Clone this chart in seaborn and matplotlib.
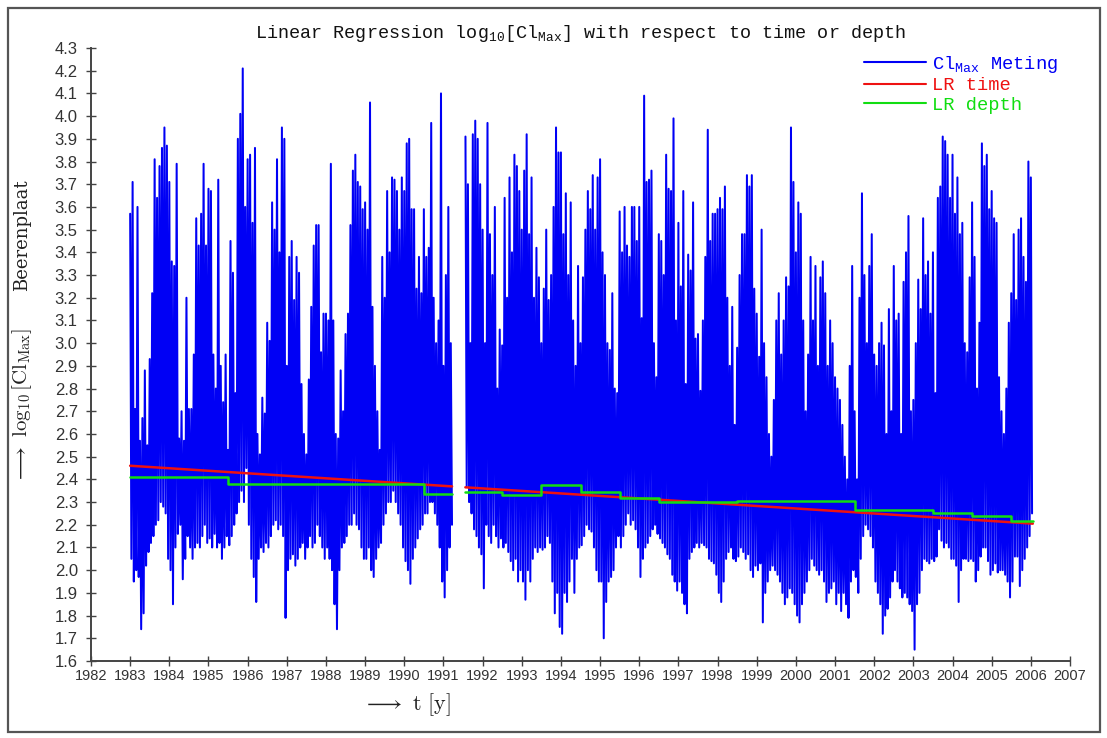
import numpy as np
import pandas as pd
import matplotlib
matplotlib.use("Agg")
import matplotlib.pyplot as plt
import seaborn as sns
from matplotlib.patches import Rectangle
from matplotlib.lines import Line2D
from matplotlib.font_manager import FontProperties

nan = np.nan

# log10[Cl_Max] Beerenplaat: per year 16 spikes (hi) and the dips between them (lo)
hi_1983 = [3.57, 3.71, 2.71, 3.60, 2.57, 2.67, 2.88, 2.55, 2.93, 3.22, 3.81, 3.64, 3.78, 3.86, 3.95, 3.87]
lo_1983 = [2.05, 1.95, 2.00, 1.97, 1.74, 1.81, 2.02, 2.08, 2.12, 2.15, 2.20, 2.22, 2.30, 2.28, 2.25, 2.05]
hi_1984 = [3.71, 3.36, 3.34, 3.79, 2.58, 2.70, 2.57, 3.20, 2.71, 2.71, 2.95, 3.55, 3.43, 3.57, 3.79, 3.43]
lo_1984 = [2.00, 1.85, 2.10, 2.16, 2.20, 1.96, 2.05, 2.15, 2.10, 2.05, 2.10, 2.12, 2.10, 2.15, 2.20, 2.12]
hi_1985 = [3.68, 3.67, 2.95, 2.80, 3.72, 2.90, 2.74, 2.95, 2.53, 3.45, 3.31, 2.78, 3.90, 4.01, 4.21, 3.60]
lo_1985 = [2.14, 2.10, 2.16, 2.10, 2.12, 2.05, 2.10, 2.15, 2.11, 2.15, 2.20, 2.25, 2.30, 2.35, 2.30, 2.45]
hi_1986 = [3.81, 3.83, 3.53, 3.86, 2.60, 2.51, 2.76, 2.69, 3.09, 3.01, 3.62, 3.50, 3.81, 3.40, 3.95, 3.90]
lo_1986 = [2.20, 2.05, 1.97, 1.86, 2.05, 2.10, 2.08, 2.12, 2.10, 2.15, 2.20, 2.22, 2.18, 2.20, 2.15, 1.79]
hi_1987 = [2.90, 3.38, 3.45, 3.19, 3.38, 3.31, 2.82, 2.60, 2.51, 2.84, 3.16, 3.43, 3.52, 3.52, 2.96, 3.13]
lo_1987 = [2.00, 2.05, 2.07, 2.02, 2.05, 2.10, 2.12, 2.05, 2.10, 2.15, 2.10, 2.12, 2.20, 2.15, 2.10, 2.05]
hi_1988 = [3.13, 3.10, 3.79, 3.10, 2.60, 2.58, 2.88, 2.70, 3.04, 3.13, 3.52, 3.76, 3.83, 3.71, 3.69, 3.59]
lo_1988 = [2.10, 2.05, 2.00, 1.85, 1.74, 2.00, 2.10, 2.12, 2.15, 2.20, 2.20, 2.25, 2.20, 2.18, 2.10, 2.05]
hi_1989 = [3.62, 3.50, 4.06, 3.16, 2.90, 2.70, 2.53, 3.38, 3.20, 3.67, 3.40, 3.73, 3.72, 3.67, 3.50, 3.73]
lo_1989 = [2.05, 2.10, 2.00, 1.97, 2.05, 2.10, 2.12, 2.20, 2.25, 2.30, 2.30, 2.35, 2.30, 2.25, 2.20, 2.10]
hi_1990 = [3.67, 3.88, 3.90, 3.59, 3.59, 3.24, 3.38, 3.22, 3.59, 3.38, 3.42, 3.97, 3.20, 3.00, 3.10, 4.10]
lo_1990 = [2.04, 2.00, 1.94, 2.05, 2.10, 2.14, 2.18, 2.20, 2.25, 2.25, 2.30, 2.30, 2.25, 2.20, 2.10, 1.95]
hi_1991 = [2.90, 3.30, 3.60, 3.00, nan, nan, nan, nan, nan, 3.91, 3.70, 3.00, 3.92, 3.98, 3.90, 3.70]
lo_1991 = [1.88, 2.00, 2.10, 2.20, nan, nan, nan, nan, nan, 2.37, 2.30, 2.25, 2.18, 2.15, 2.10, 2.07]
hi_1992 = [3.50, 3.00, 3.97, 3.48, 3.30, 3.60, 2.80, 3.06, 2.99, 3.64, 3.20, 3.73, 3.40, 3.83, 3.78, 3.67]
lo_1992 = [1.92, 2.20, 2.15, 2.12, 2.20, 2.15, 2.10, 2.14, 2.10, 2.12, 2.08, 2.04, 2.00, 2.05, 1.95, 2.00]
hi_1993 = [3.50, 3.76, 3.92, 3.48, 3.73, 3.20, 3.42, 3.29, 3.00, 3.24, 3.50, 3.19, 3.30, 3.60, 3.95, 3.84]
lo_1993 = [1.95, 1.87, 2.00, 1.95, 2.05, 2.10, 2.08, 2.10, 2.09, 2.10, 2.15, 2.12, 1.95, 1.81, 1.90, 1.75]
hi_1994 = [3.84, 3.48, 3.66, 3.30, 3.62, 3.10, 2.90, 3.34, 3.00, 3.29, 3.50, 3.67, 3.59, 3.74, 3.50, 3.73]
lo_1994 = [1.72, 1.90, 1.86, 1.95, 2.05, 1.90, 2.05, 2.10, 2.11, 2.15, 2.20, 2.18, 2.17, 2.10, 2.00, 1.95]
hi_1995 = [3.81, 3.40, 3.30, 3.00, 2.97, 3.22, 2.80, 2.78, 3.58, 3.40, 3.60, 3.43, 3.38, 3.60, 3.60, 3.45]
lo_1995 = [1.95, 1.70, 1.86, 1.95, 1.97, 2.00, 2.10, 2.15, 2.10, 2.15, 2.20, 2.25, 2.20, 2.22, 2.18, 2.10]
hi_1996 = [3.60, 3.11, 4.09, 3.71, 3.72, 3.76, 3.00, 2.85, 3.48, 3.45, 3.30, 3.83, 3.68, 3.67, 3.99, 3.10]
lo_1996 = [1.97, 2.05, 2.10, 2.12, 2.15, 2.18, 2.20, 2.16, 2.14, 2.12, 2.10, 2.07, 2.05, 1.98, 1.95, 1.91]
hi_1997 = [3.53, 3.25, 3.67, 2.82, 3.39, 3.32, 3.62, 3.02, 3.04, 2.79, 3.10, 3.38, 3.94, 3.45, 3.57, 3.57]
lo_1997 = [1.95, 1.90, 1.85, 1.81, 2.05, 2.08, 2.10, 2.12, 2.10, 2.12, 2.11, 2.10, 2.05, 2.04, 2.03, 1.98]
hi_1998 = [3.59, 3.64, 3.59, 3.69, 3.20, 2.90, 3.16, 2.64, 2.98, 3.30, 3.48, 3.48, 3.74, 3.69, 3.74, 3.24]
lo_1998 = [1.90, 1.86, 1.95, 2.05, 2.08, 2.10, 2.05, 2.04, 2.06, 2.10, 2.08, 2.05, 2.07, 2.00, 1.97, 2.02]
hi_1999 = [3.13, 2.94, 3.50, 3.00, 2.85, 2.60, 2.50, 2.75, 3.10, 3.22, 2.95, 3.10, 3.29, 3.25, 3.95, 3.71]
lo_1999 = [2.00, 2.03, 1.77, 1.90, 1.95, 2.00, 2.02, 2.00, 1.98, 1.95, 1.90, 1.85, 1.88, 1.92, 1.90, 1.85]
hi_2000 = [3.40, 3.62, 3.57, 3.10, 2.70, 2.95, 3.38, 3.10, 3.34, 2.90, 3.29, 3.36, 3.22, 2.90, 3.10, 3.00]
lo_2000 = [1.80, 1.77, 1.85, 1.90, 1.95, 2.00, 2.05, 2.02, 2.00, 1.98, 2.00, 1.95, 1.86, 1.90, 1.92, 1.95]
hi_2001 = [2.85, 2.80, 2.75, 2.64, 2.50, 2.40, 2.90, 3.34, 2.70, 2.40, 3.20, 3.66, 3.30, 3.00, 3.34, 3.48]
lo_2001 = [1.85, 1.90, 1.82, 1.90, 1.85, 1.79, 1.95, 2.00, 1.97, 1.90, 2.05, 2.15, 2.20, 2.18, 2.15, 2.10]
hi_2002 = [2.95, 2.90, 3.00, 3.09, 2.99, 2.60, 3.15, 2.70, 3.34, 3.10, 3.13, 2.60, 3.27, 3.40, 3.56, 2.70]
lo_2002 = [1.95, 1.90, 1.85, 1.72, 1.80, 1.83, 1.88, 1.95, 2.00, 1.95, 1.92, 1.88, 1.90, 1.88, 1.85, 1.82]
hi_2003 = [2.75, 3.00, 3.28, 3.15, 3.55, 3.30, 3.36, 3.13, 3.40, 2.78, 3.64, 3.69, 3.91, 3.89, 3.83, 3.64]
lo_2003 = [1.65, 1.85, 1.90, 2.00, 2.05, 2.04, 2.03, 2.05, 2.04, 2.06, 2.18, 2.13, 2.10, 2.12, 2.10, 2.05]
hi_2004 = [3.83, 3.57, 3.73, 3.48, 3.53, 3.00, 2.96, 3.29, 3.62, 3.38, 2.80, 3.09, 3.88, 3.78, 3.83, 3.59]
lo_2004 = [2.05, 2.02, 1.86, 2.00, 2.05, 2.05, 2.04, 2.05, 2.04, 1.95, 2.00, 2.06, 2.10, 2.10, 2.04, 1.98]
hi_2005 = [3.67, 3.55, 3.53, 2.85, 2.70, 2.60, 2.80, 3.09, 3.22, 3.48, 3.19, 3.50, 3.55, 3.38, 3.27, 3.80]
lo_2005 = [2.00, 2.03, 1.99, 2.00, 2.00, 1.98, 1.95, 1.88, 1.95, 2.06, 2.06, 1.93, 2.00, 2.05, 2.10, 2.15]
hi_2006 = [3.73]
lo_2006 = [2.25]

years = list(range(1983, 2007))
hi_all = [hi_1983, hi_1984, hi_1985, hi_1986, hi_1987, hi_1988, hi_1989, hi_1990, hi_1991,
          hi_1992, hi_1993, hi_1994, hi_1995, hi_1996, hi_1997, hi_1998, hi_1999, hi_2000,
          hi_2001, hi_2002, hi_2003, hi_2004, hi_2005, hi_2006]
lo_all = [lo_1983, lo_1984, lo_1985, lo_1986, lo_1987, lo_1988, lo_1989, lo_1990, lo_1991,
          lo_1992, lo_1993, lo_1994, lo_1995, lo_1996, lo_1997, lo_1998, lo_1999, lo_2000,
          lo_2001, lo_2002, lo_2003, lo_2004, lo_2005, lo_2006]

# linear regression on time (gap where no data)
lr_time_t = [1983.0, 1991.22, nan, 1991.56, 2006.05]
lr_time_v = [2.46, 2.369, nan, 2.365, 2.205]

# linear regression on depth: step levels per period
depth_start = [1983.0, 1985.5, 1990.5, 1991.56, 1992.5, 1993.5, 1994.5, 1995.5, 1996.5, 1998.5, 2001.5, 2003.5, 2004.5, 2005.5]
depth_end = [1985.5, 1990.5, 1991.22, 1992.5, 1993.5, 1994.5, 1995.5, 1996.5, 1998.5, 2001.5, 2003.5, 2004.5, 2005.5, 2006.05]
depth_level = [2.41, 2.38, 2.335, 2.345, 2.33, 2.375, 2.345, 2.32, 2.30, 2.305, 2.265, 2.25, 2.24, 2.215]

# build tables
t, v = [], []
for yr, h, l in zip(years, hi_all, lo_all):
    for k, (a, b) in enumerate(zip(h, l)):
        t += [yr + k / 16, yr + (k + 0.5) / 16]
        v += [a, b]

dt, dv = [], []
for i, (a, b, lev) in enumerate(zip(depth_start, depth_end, depth_level)):
    if i > 0 and a != depth_end[i - 1]:
        dt.append(nan)
        dv.append(nan)
    dt += [a, b]
    dv += [lev, lev]


def segs(x, y):
    df = pd.DataFrame({"t": x, "v": y})
    df["seg"] = df["v"].isna().cumsum()
    return df.dropna()


blue_df = segs(t, v)
red_df = segs(lr_time_t, lr_time_v)
green_df = segs(dt, dv)

BLUE, RED, GREEN = "#0000f5", "#ee1111", "#11dd11"

sns.set_style("ticks")
plt.rcParams["font.family"] = ["Liberation Sans", "DejaVu Sans"]
plt.rcParams["mathtext.fontset"] = "custom"
plt.rcParams["mathtext.rm"] = "Liberation Mono"
plt.rcParams["mathtext.it"] = "Liberation Mono"
plt.rcParams["mathtext.bf"] = "Liberation Mono"

fig = plt.figure(figsize=(11.07, 7.38), dpi=100)
ax = fig.add_axes([91 / 1107, 77 / 738, (1070 - 91) / 1107, (661 - 48) / 738])

sns.lineplot(data=blue_df, x="t", y="v", units="seg", estimator=None, sort=False,
             color=BLUE, lw=1.45, ax=ax)
sns.lineplot(data=red_df, x="t", y="v", units="seg", estimator=None, sort=False,
             color=RED, lw=1.8, ax=ax)
sns.lineplot(data=green_df, x="t", y="v", units="seg", estimator=None, sort=False,
             color=GREEN, lw=1.8, ax=ax)

ax.set_xlim(1982, 2007)
ax.set_ylim(1.6, 4.3)
ax.set_xticks(range(1982, 2008))
ax.set_xticklabels([str(y) for y in range(1982, 2008)], fontsize=10.5, color="#333333")
yt = np.round(np.arange(1.6, 4.31, 0.1), 1)
ax.set_yticks(yt)
ax.set_yticklabels([f"{y:.1f}" for y in yt], fontsize=12, color="#333333")
ax.tick_params(direction="inout", length=7, width=1.0, color="#444444")
ax.tick_params(axis="y", pad=6)
ax.tick_params(axis="x", pad=2)
ax.set_xlabel("")
ax.set_ylabel("")
sns.despine(ax=ax)
for s in ["left", "bottom"]:
    ax.spines[s].set_color("#444444")
    ax.spines[s].set_linewidth(1.4)

# title
fig.text(581 / 1107, 1 - 33 / 738,
         r"Linear Regression log$_{10}$[Cl$_{\mathrm{Max}}$] with respect to time or depth",
         ha="center", va="center", fontsize=13.3, family="Liberation Mono",
         math_fontfamily="custom", color="#111111")

# axis labels
fig.text(22 / 1107, 1 - 405 / 738,
         r"$\longrightarrow\ \log_{10}[\mathrm{Cl}_{\mathrm{Max}}]$",
         rotation=90, ha="center", va="center", fontsize=15, math_fontfamily="cm", color="#222222")
fig.text(22 / 1107, 1 - 235 / 738, "Beerenplaat", rotation=90, ha="center", va="center",
         fontsize=13, family="DejaVu Serif", color="#222222")
fig.text(407 / 1107, 1 - 705 / 738, r"$\longrightarrow\ \mathrm{t}\ [\mathrm{y}]$",
         ha="center", va="center", fontsize=16, math_fontfamily="cm", color="#222222")

# legend
handles = [Line2D([], [], color=BLUE, lw=1.5), Line2D([], [], color=RED, lw=1.5),
           Line2D([], [], color=GREEN, lw=1.5)]
labels = [r"Cl$_{\mathrm{Max}}$ Meting", "LR time", "LR depth"]
prop = FontProperties(family="Liberation Mono", size=13.5, math_fontfamily="custom")
ax.legend(handles, labels, loc="upper left", bbox_to_anchor=(864 / 1107, 1 - 54 / 738),
          bbox_transform=fig.transFigure, frameon=False, prop=prop, labelcolor="linecolor",
          handlelength=3.3, handletextpad=0.35, labelspacing=0.12, borderpad=0, borderaxespad=0)

# frame round the figure
fig.patches.append(Rectangle((8 / 1107, 6 / 738), 1092 / 1107, 724 / 738, transform=fig.transFigure,
                             fill=False, edgecolor="#555555", lw=1.6))

fig.savefig("out.png", dpi=100)
